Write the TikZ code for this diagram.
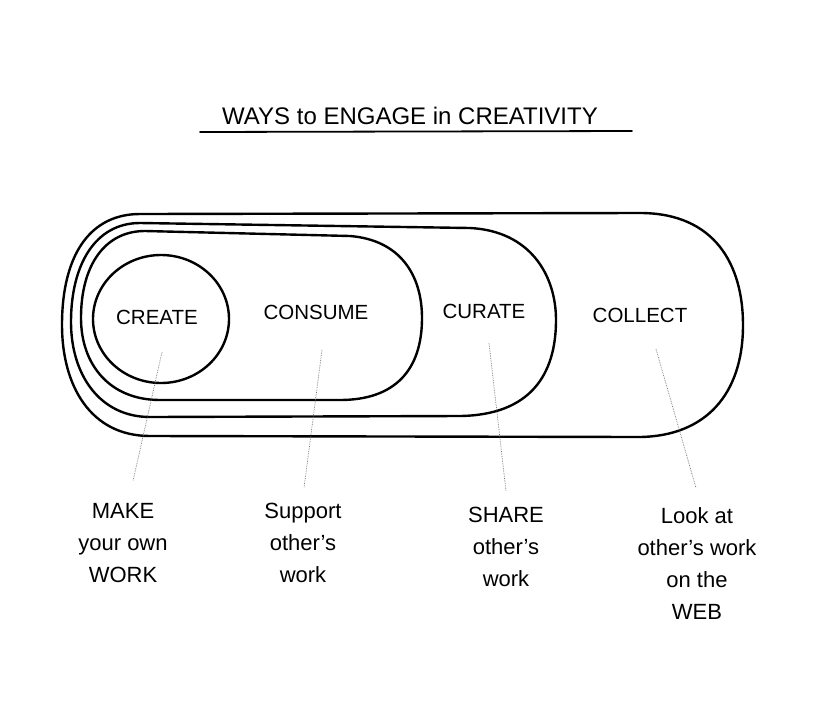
\documentclass[tikz,border=0pt]{standalone}
\usepackage{fontspec}
\setmainfont{Liberation Sans}
\begin{document}
\begin{tikzpicture}[x=1pt,y=-1pt,
  ring/.style={draw=black,line width=2.4pt,line join=round,line cap=round},
  lbl/.style={font=\fontsize{20.5}{20.5}\selectfont,inner sep=0pt},
  ttl/.style={font=\fontsize{24}{24}\selectfont,inner sep=0pt},
  note/.style={font=\fontsize{22}{32}\selectfont,align=center,inner sep=0pt,anchor=north},
  leader/.style={draw=black!55,line width=0.7pt,densely dotted}]
\useasboundingbox[fill=white] (0,0) rectangle (827,702);

% title
\node[ttl] (title) at (410,116) {WAYS to ENGAGE in CREATIVITY};
\coordinate (ul1) at (200,132);
\coordinate (ul2) at (632,131);
\draw[line width=1.8pt,line cap=round] (ul1) -- (ul2);

% collect (outer)
\draw[ring] (140,214) -- (640,213) .. controls (715,213) and (743,265) .. (743,325)
  .. controls (743,395) and (705,436) .. (640,437) -- (150,436)
  .. controls (90,436) and (62,385) .. (62,325)
  .. controls (62,255) and (90,214) .. (140,214) -- cycle;
% curate
\draw[ring] (140,223) -- (470,228) .. controls (530,231) and (556,275) .. (556,320)
  .. controls (556,375) and (530,415) .. (460,416) -- (150,417)
  .. controls (100,417) and (71,375) .. (71,322)
  .. controls (71,265) and (95,223) .. (140,223) -- cycle;
% consume
\draw[ring] (145,231) -- (350,236) .. controls (400,240) and (422,275) .. (422,318)
  .. controls (422,370) and (395,400) .. (340,400) -- (160,400)
  .. controls (110,400) and (81,365) .. (81,318)
  .. controls (81,265) and (105,231) .. (145,231) -- cycle;
% create
\draw[ring] (161,319) ellipse [x radius=68, y radius=64];

% labels
\node[lbl] (create) at (157,317) {CREATE};
\node[lbl] (consume) at (316,312) {CONSUME};
\node[lbl] (curate) at (484,311) {CURATE};
\node[lbl] (collect) at (640,315) {COLLECT};

% bottom notes
\node[note] (n1) at (123,503) {MAKE\\your own\\WORK};
\node[note] (n2) at (303,503) {Support\\other's\\work};
\node[note] (n3) at (506,507) {SHARE\\other's\\work};
\node[note] (n4) at (697,507) {Look at\\other's work\\on the\\WEB};

% leaders
\coordinate (s1) at (162,352);
\coordinate (e1) at (133,481);
\coordinate (s2) at (322,350);
\coordinate (e2) at (304,488);
\coordinate (s3) at (489,343);
\coordinate (e3) at (506,491);
\coordinate (s4) at (656,349);
\coordinate (e4) at (696,488);
\draw[leader] (s1) -- (e1);
\draw[leader] (s2) -- (e2);
\draw[leader] (s3) -- (e3);
\draw[leader] (s4) -- (e4);
\end{tikzpicture}
\end{document}
